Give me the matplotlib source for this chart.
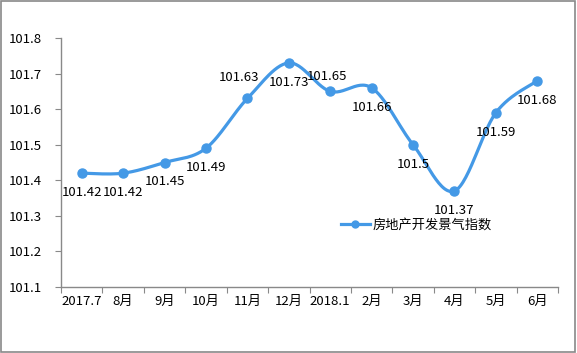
import matplotlib
matplotlib.use('Agg')
import matplotlib.pyplot as plt
from matplotlib.patches import Rectangle
import numpy as np

plt.rcParams['font.family'] = ['Noto Sans CJK SC', 'DejaVu Sans']

# data
months = ['2017.7', '8月', '9月', '10月', '11月', '12月', '2018.1',
          '2月', '3月', '4月', '5月', '6月']
index_vals = [101.42, 101.42, 101.45, 101.49, 101.63, 101.73, 101.65,
              101.66, 101.5, 101.37, 101.59, 101.68]
label_txt = ['101.42', '101.42', '101.45', '101.49', '101.63', '101.73', '101.65',
             '101.66', '101.5', '101.37', '101.59', '101.68']
series_name = '房地产开发景气指数'

blue = '#4499E6'
grey = '#898989'


def smooth(xs, ys, n=30):
    # catmull-rom style curve through the points (Excel "smoothed line")
    px = np.concatenate([[xs[0]], xs, [xs[-1]]])
    py = np.concatenate([[ys[0]], ys, [ys[-1]]])
    outx, outy = [], []
    t = np.linspace(0, 1, n)
    for i in range(1, len(px) - 2):
        p0, p1, p2, p3 = [np.array([px[j], py[j]]) for j in (i - 1, i, i + 1, i + 2)]
        c1 = p1 + (p2 - p0) / 6
        c2 = p2 - (p3 - p1) / 6
        b = ((1 - t) ** 3)[:, None] * p1 + (3 * (1 - t) ** 2 * t)[:, None] * c1 \
            + (3 * (1 - t) * t ** 2)[:, None] * c2 + (t ** 3)[:, None] * p2
        outx.extend(b[:, 0])
        outy.extend(b[:, 1])
    return np.array(outx), np.array(outy)


fig = plt.figure(figsize=(5.77, 3.53), dpi=100)
ax = fig.add_axes([61 / 577, 66 / 353, 497 / 577, 249 / 353])

x = np.arange(len(months))
sx, sy = smooth(x.astype(float), np.array(index_vals))
ax.plot(sx, sy, color=blue, lw=2.3, solid_capstyle='round', zorder=3)
ax.plot(x, index_vals, 'o', color=blue, ms=6.5, zorder=4)
ax.plot([], [], '-o', color=blue, lw=2.3, ms=5, label=series_name)

# label offsets in points (dx, dy)
offs = {4: (-6, 15), 6: (-2, 11)}
for i, (v, t) in enumerate(zip(index_vals, label_txt)):
    dx, dy = offs.get(i, (0, -14))
    ax.annotate(t, (i, v), xytext=(dx, dy), textcoords='offset points',
                ha='center', va='center', fontsize=9.5, color='black', zorder=5)

ax.set_xlim(-0.5, len(months) - 0.5)
ax.set_ylim(101.1, 101.8)
ax.set_yticks(np.arange(101.1, 101.81, 0.1))
ax.set_yticklabels(['%.1f' % v for v in np.arange(101.1, 101.81, 0.1)])
ax.set_xticks(np.arange(-0.5, len(months), 1))
ax.set_xticklabels([])
ax.set_xticks(x, minor=True)
ax.set_xticklabels(months, minor=True)
ax.tick_params(axis='x', which='major', direction='out', length=4, color=grey)
ax.tick_params(axis='x', which='minor', length=0, pad=6, labelsize=9.5)
ax.tick_params(axis='y', direction='out', length=4, color=grey, pad=10, labelsize=9.5)

for s in ['top', 'right']:
    ax.spines[s].set_visible(False)
for s in ['left', 'bottom']:
    ax.spines[s].set_color(grey)
    ax.spines[s].set_linewidth(1)

ax.legend(loc='center', bbox_to_anchor=(0.715, 0.25), frameon=False,
          fontsize=9.5, handlelength=2.2, handletextpad=0.2)

fig.patches.append(Rectangle((0.002, 0.004), 0.995, 0.993, transform=fig.transFigure,
                             fill=False, edgecolor=grey, lw=1.2))

fig.savefig('out.png', dpi=100)
